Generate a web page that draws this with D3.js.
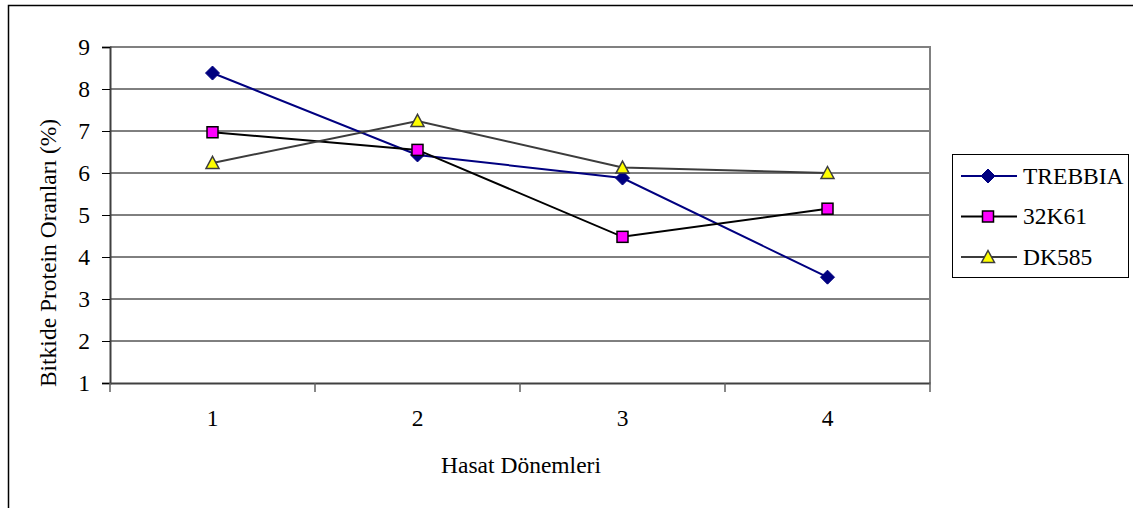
<!DOCTYPE html>
<html>
<head>
<meta charset="utf-8">
<script src="https://cdn.jsdelivr.net/npm/d3@7"></script>
<style>
  body { margin: 0; background: #fff; }
  svg text { font-family: 'Liberation Serif', 'Times New Roman', serif !important; }
</style>
</head>
<body>
<div id="chart"></div>
<script>
// values
const periods = ["1", "2", "3", "4"];
const yTicks = [1, 2, 3, 4, 5, 6, 7, 8, 9];
const trebbia = [8.38, 6.43, 5.88, 3.52];
const k32k61 = [6.97, 6.55, 4.48, 5.15];
const dk585 = [6.24, 7.24, 6.13, 6.0];
const seriesNames = ["TREBBIA", "32K61", "DK585"];

const W = 1133, H = 508;
const m = {left: 110, top: 47, right: 930, bottom: 383};
const FONT = "'Liberation Serif', 'Times New Roman', serif";
const FS = 23.5;

const series = [
  {name: seriesNames[0], vals: trebbia, line: "#000080", fill: "#000080", stroke: "#000080", shape: "diamond"},
  {name: seriesNames[1], vals: k32k61, line: "#000000", fill: "#ff00ff", stroke: "#000000", shape: "square"},
  {name: seriesNames[2], vals: dk585, line: "#3c3c3c", fill: "#ffff00", stroke: "#3c3c3c", shape: "triangle"}
];

const svg = d3.select("#chart").append("svg")
    .attr("width", W).attr("height", H)
    .attr("font-family", FONT);

// outer frame
svg.append("rect")
    .attr("x", 8.5).attr("y", 5.5)
    .attr("width", 1200).attr("height", 600)
    .attr("fill", "none").attr("stroke", "#000").attr("stroke-width", 1.5);

const x = d3.scaleBand().domain(periods).range([m.left, m.right]);
const y = d3.scaleLinear().domain([1, 9]).range([m.bottom, m.top]);

// grid
svg.append("g")
  .selectAll("line")
  .data(yTicks.slice(1, -1))
  .join("line")
    .attr("x1", m.left).attr("x2", m.right)
    .attr("y1", d => y(d)).attr("y2", d => y(d))
    .attr("stroke", "#000").attr("stroke-width", 1);

// plot border (top/right grey)
svg.append("path")
    .attr("d", `M${m.left},${y(9)}H${m.right}V${m.bottom}`)
    .attr("fill", "none").attr("stroke", "#808080").attr("stroke-width", 2);

// y axis
const yAxis = svg.append("g")
    .attr("transform", `translate(${m.left},0)`)
    .call(d3.axisLeft(y).tickValues(yTicks).tickSize(8).tickPadding(12).tickFormat(d3.format("d")))
    .attr("font-family", FONT).attr("font-size", FS);
yAxis.select(".domain").attr("stroke", "#404040").attr("stroke-width", 2);
yAxis.selectAll(".tick line").attr("stroke", "#000");
yAxis.selectAll("text").attr("fill", "#000");

// x axis
const xAxis = svg.append("g")
    .attr("transform", `translate(0,${m.bottom})`)
    .call(d3.axisBottom(x).tickSize(0).tickPadding(26))
    .attr("font-family", FONT).attr("font-size", FS);
xAxis.select(".domain").attr("stroke", "#404040").attr("stroke-width", 2);
xAxis.selectAll("text").attr("fill", "#000");
xAxis.selectAll(".xtick")
  .data(d3.range(periods.length + 1))
  .join("line")
    .attr("class", "xtick")
    .attr("x1", i => m.left + i * x.step()).attr("x2", i => m.left + i * x.step())
    .attr("y1", 0).attr("y2", 9)
    .attr("stroke", "#606060").attr("stroke-width", 1.5);

// axis titles
svg.append("text")
    .attr("x", x.range()[0] + (m.right - m.left) / 2 + 1)
    .attr("y", 473)
    .attr("text-anchor", "middle").attr("font-size", FS)
    .text("Hasat Dönemleri");
svg.append("text")
    .attr("transform", `translate(56,${(m.top + m.bottom) / 2 + 38}) rotate(-90)`)
    .attr("text-anchor", "middle").attr("font-size", FS)
    .text("Bitkide Protein Oranları (%)");

function marker(g, shape, fill, stroke) {
  if (shape === "diamond") {
    g.append("path").attr("d", "M0,-7L7,0L0,7L-7,0Z")
      .attr("fill", fill).attr("stroke", stroke).attr("stroke-width", 1);
  } else if (shape === "square") {
    g.append("rect").attr("x", -5.5).attr("y", -5.5).attr("width", 11).attr("height", 11)
      .attr("fill", fill).attr("stroke", stroke).attr("stroke-width", 1.5);
  } else {
    g.append("path").attr("d", "M0,-6.5L6.5,5.5L-6.5,5.5Z")
      .attr("fill", fill).attr("stroke", stroke).attr("stroke-width", 1.5);
  }
}

const cx = d => x(d) + x.bandwidth() / 2;
const line = d3.line().x((v, i) => cx(periods[i])).y(v => y(v));

series.forEach(s => {
  svg.append("path")
      .datum(s.vals)
      .attr("d", line)
      .attr("fill", "none").attr("stroke", s.line).attr("stroke-width", 2);
});
series.forEach(s => {
  s.vals.forEach((v, i) => {
    const g = svg.append("g").attr("transform", `translate(${cx(periods[i])},${y(v)})`);
    marker(g, s.shape, s.fill, s.stroke);
  });
});

// legend
const lg = svg.append("g");
lg.append("rect")
    .attr("x", 952.5).attr("y", 154.5).attr("width", 176).attr("height", 123)
    .attr("fill", "#fff").attr("stroke", "#000").attr("stroke-width", 1);
series.forEach((s, i) => {
  const ly = 176 + i * 40.5;
  lg.append("line").attr("x1", 961).attr("x2", 1017).attr("y1", ly).attr("y2", ly)
    .attr("stroke", s.line).attr("stroke-width", 2);
  marker(lg.append("g").attr("transform", `translate(988,${ly})`), s.shape, s.fill, s.stroke);
  lg.append("text").attr("x", 1023).attr("y", ly + 7.5).attr("font-size", FS).text(s.name);
});
</script>
</body>
</html>
